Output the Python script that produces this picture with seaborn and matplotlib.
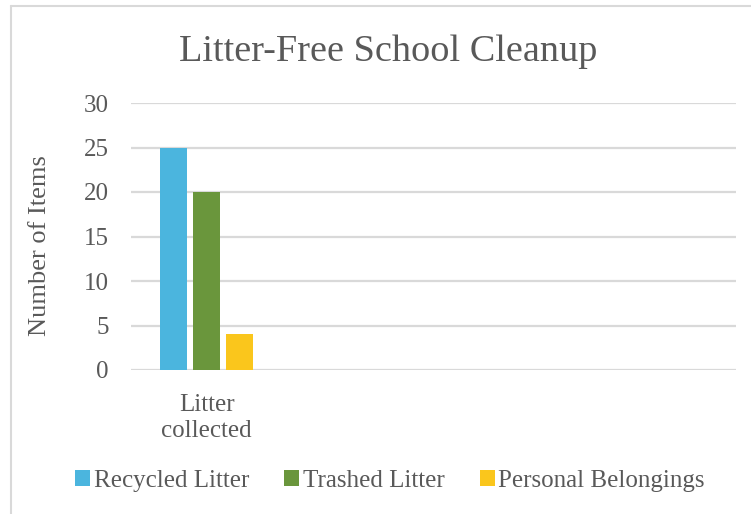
import matplotlib
matplotlib.use("Agg")
import matplotlib.pyplot as plt
import seaborn as sns
import pandas as pd
from matplotlib.lines import Line2D
from matplotlib.patches import Patch

categories = ["Litter collected"]
slot_labels = ["Litter\ncollected", "", "", ""]
series = ["Recycled Litter", "Trashed Litter", "Personal Belongings"]
values = [25, 20, 4]
colors = ["#4BB5DE", "#6A963C", "#FAC61C"]
yticks = [0, 5, 10, 15, 20, 25, 30]

sns.set_theme(style="white")
plt.rcParams['font.family'] = ['Liberation Serif', 'DejaVu Serif']
txt = "#595959"

slots = ["Litter collected", "_e1", "_e2", "_e3"]
df = pd.DataFrame({"cat": [categories[0]] * 3, "series": series, "val": values})

fig = plt.figure(figsize=(7.51, 5.14), dpi=100)
ax = fig.add_axes([131/751, 1-370/514, (736-131)/751, (370-103)/514])
sns.barplot(data=df, x="cat", y="val", hue="series", order=slots,
            hue_order=series, palette=colors, width=0.655, gap=0.18,
            saturation=1, linewidth=0, ax=ax, legend=False)
ax.set_xlim(-0.5, 3.5)
ax.set_ylim(0, 30)
ax.set_yticks(yticks)
ax.set_yticklabels([str(t) for t in yticks], fontsize=18, color=txt)
ax.set_xticks(range(4))
ax.set_xticklabels(slot_labels, fontsize=18, color=txt, linespacing=1.25)
ax.tick_params(axis='x', length=0, pad=17)
ax.tick_params(axis='y', length=0, pad=16)
ax.yaxis.grid(True, color="#D9D9D9", linewidth=1.6)
ax.set_axisbelow(True)
for s in ax.spines.values():
    s.set_visible(False)
ax.set_xlabel("")
ax.set_ylabel("")
fig.text(40/751, 1-246/514, "Number of Items", rotation=90, ha="center", va="center",
         fontsize=19, color=txt)

fig.text(388/751, 1-52/514, "Litter-Free School Cleanup", ha="center", va="center",
         fontsize=27.5, color=txt)

handles = [Patch(facecolor=c, edgecolor="none") for c in colors]
fig.legend(handles, series, loc="center", bbox_to_anchor=(390/751, 1-481/514),
           ncol=3, frameon=False, fontsize=18, labelcolor=txt,
           handlelength=0.6, handleheight=0.6, handletextpad=0.15, columnspacing=1.4)

fig.add_artist(Line2D([10.5/751, 10.5/751], [0, 1-5.5/514], transform=fig.transFigure,
                      color="#D9D9D9", linewidth=1.5))
fig.add_artist(Line2D([10.5/751, 1], [1-5.5/514, 1-5.5/514], transform=fig.transFigure,
                      color="#D9D9D9", linewidth=1.5))

fig.savefig("out.png", dpi=100)
